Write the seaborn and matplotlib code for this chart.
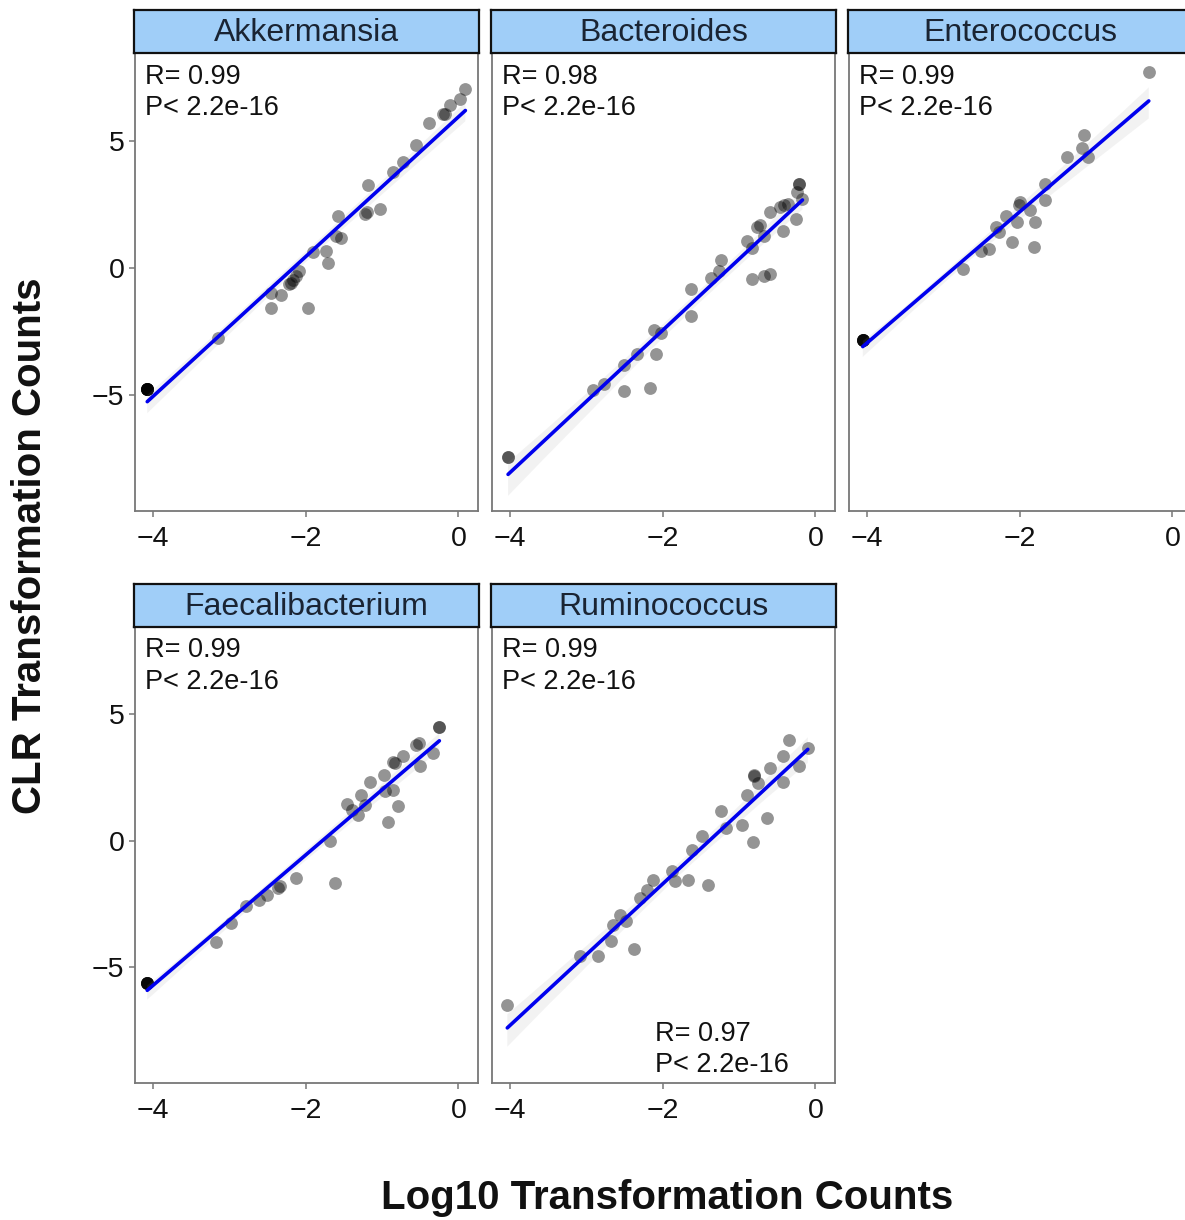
import numpy as np
import pandas as pd
import matplotlib
matplotlib.use("Agg")
import matplotlib.pyplot as plt
import seaborn as sns

# ---------------- data ----------------
genera = ["Akkermansia", "Bacteroides", "Enterococcus", "Faecalibacterium", "Ruminococcus"]

akk_x = [0.09, 0.02, -0.11, -0.17, -0.20, -0.39, -0.55, -0.72, -0.85, -1.18, -1.03, -1.20, -1.22,
         -1.57, -1.53, -1.60, -1.73, -1.70, -1.90, -2.08, -2.12, -2.19, -2.17, -2.21, -2.32, -2.45,
         -2.45, -1.97, -3.15, -4.07, -4.07, -4.07, -4.07, -4.07, -4.07, -4.07, -4.07]
akk_y = [7.02, 6.62, 6.42, 6.03, 6.03, 5.70, 4.83, 4.17, 3.77, 3.27, 2.29, 2.19, 2.12,
         2.05, 1.15, 1.25, 0.66, 0.20, 0.60, -0.13, -0.33, -0.60, -0.47, -0.66, -1.06, -0.99,
         -1.59, -1.59, -2.78, -4.77, -4.77, -4.77, -4.77, -4.77, -4.77, -4.77, -4.77]

bac_x = [-0.22, -0.22, -0.24, -0.17, -0.26, -0.43, -0.41, -0.47, -0.36, -0.59, -0.72, -0.76, -0.67,
         -0.89, -0.83, -0.59, -0.67, -0.83, -1.24, -1.26, -1.37, -1.63, -1.63, -2.11, -2.02, -2.09,
         -2.33, -2.50, -2.76, -2.91, -2.50, -2.17, -4.02, -4.02]
bac_y = [3.31, 3.31, 2.98, 2.72, 1.92, 1.46, 2.45, 2.40, 2.52, 2.19, 1.66, 1.60, 1.26,
         1.06, 0.79, -0.26, -0.33, -0.46, 0.30, -0.13, -0.40, -0.86, -1.89, -2.45, -2.58, -3.38,
         -3.38, -3.84, -4.57, -4.83, -4.86, -4.74, -7.46, -7.46]

ent_x = [-0.31, -1.16, -1.18, -1.11, -1.38, -1.67, -1.67, -1.99, -2.01, -1.86, -2.18, -2.03, -1.80,
         -2.31, -2.27, -2.10, -1.81, -2.40, -2.51, -2.74, -4.05, -4.05, -4.05, -4.05, -4.05, -4.05]
ent_y = [7.72, 5.23, 4.70, 4.37, 4.37, 3.31, 2.65, 2.58, 2.45, 2.25, 2.05, 1.79, 1.79,
         1.59, 1.39, 0.99, 0.83, 0.73, 0.66, -0.07, -2.85, -2.85, -2.85, -2.85, -2.85, -2.85]

fae_x = [-0.25, -0.25, -0.52, -0.56, -0.33, -0.50, -0.72, -0.83, -0.86, -0.98, -0.85, -0.96, -0.79,
         -0.92, -1.16, -1.27, -1.22, -1.46, -1.31, -1.39, -1.68, -1.62, -2.13, -2.34, -2.36, -2.50,
         -2.61, -2.78, -2.98, -3.17, -4.07, -4.07, -4.07, -4.07, -4.07, -4.07]
fae_y = [4.51, 4.51, 3.86, 3.80, 3.46, 2.97, 3.33, 3.07, 3.10, 2.61, 2.01, 1.95, 1.38,
         0.74, 2.34, 1.82, 1.42, 1.46, 1.03, 1.20, 0.00, -1.67, -1.47, -1.80, -1.86, -2.13,
         -2.33, -2.59, -3.25, -4.01, -5.62, -5.62, -5.62, -5.62, -5.62, -5.62]

rum_x = [-0.34, -0.10, -0.21, -0.43, -0.43, -0.60, -0.80, -0.80, -0.75, -0.89, -0.64, -0.82, -0.96,
         -1.24, -1.17, -1.49, -1.62, -1.88, -1.84, -1.67, -1.41, -2.13, -2.20, -2.29, -2.55, -2.48,
         -2.65, -2.68, -2.37, -2.84, -3.08, -4.03]
rum_y = [3.99, 3.66, 2.97, 3.33, 2.32, 2.87, 2.61, 2.55, 2.28, 1.82, 0.89, -0.07, 0.63,
         1.16, 0.50, 0.17, -0.36, -1.21, -1.61, -1.54, -1.74, -1.54, -1.93, -2.26, -2.92, -3.18,
         -3.32, -3.97, -4.30, -4.57, -4.57, -6.51]

r_labels = ["R= 0.99", "R= 0.98", "R= 0.99", "R= 0.99", "R= 0.99"]
p_label = "P< 2.2e-16"
extra_label = "R= 0.97\nP< 2.2e-16"

x_ticks = [-4, -2, 0]
y_ticks = [-5, 0, 5]

xs = [akk_x, bac_x, ent_x, fae_x, rum_x]
ys = [akk_y, bac_y, ent_y, fae_y, rum_y]
df = pd.concat([pd.DataFrame({"genus": g, "log10": x, "clr": y}) for g, x, y in zip(genera, xs, ys)],
               ignore_index=True)

# ---------------- styling ----------------
sns.set_theme(style="white")
plt.rcParams["font.family"] = ["Liberation Sans", "DejaVu Sans"]
plt.rcParams["axes.unicode_minus"] = True

W, H = 1185, 1220
fig = plt.figure(figsize=(W / 100, H / 100), dpi=100)
fig.patch.set_facecolor("white")

col_left = [135, 492, 849]
panel_w = 343
row_top = [53, 627]
row_h = [458, 456]
strip_h = 43


def rect(left, top, w, h):
    return [left / W, 1 - (top + h) / H, w / W, h / H]


positions = [(0, 0), (0, 1), (0, 2), (1, 0), (1, 1)]
for i, g in enumerate(genera):
    r, c = positions[i]
    ax = fig.add_axes(rect(col_left[c], row_top[r], panel_w, row_h[r]))
    sub = df[df["genus"] == g]
    sns.regplot(data=sub, x="log10", y="clr", ax=ax, ci=95, color="#888888",
                scatter_kws={"color": "black", "alpha": 0.42, "s": 85, "linewidths": 0},
                line_kws={"color": "#0000EE", "linewidth": 2.6})
    # make the confidence band a faint grey, as in the reference
    for coll in ax.collections[1:]:
        coll.set_facecolor("#9a9a9a")
        coll.set_alpha(0.12)
        coll.set_edgecolor("none")
    ax.set_xlim(-4.23, 0.255)
    ax.set_ylim(-9.58, 8.45)
    ax.set_xticks(x_ticks)
    ax.set_yticks(y_ticks)
    ax.set_xlabel("")
    ax.set_ylabel("")
    ax.tick_params(axis="both", which="major", length=4.5, width=1.1, color="#777777",
                   labelsize=20.5, labelcolor="#111111", bottom=True, left=True)
    ax.tick_params(axis="x", pad=6)
    ax.tick_params(axis="y", pad=3)
    if c != 0:
        ax.set_yticklabels([])
        ax.tick_params(axis="y", left=False)
    for sp in ax.spines.values():
        sp.set_color("#777777")
        sp.set_linewidth(1.3)
    ax.set_facecolor("white")
    ax.text(0.028, 0.977, r_labels[i] + "\n" + p_label, transform=ax.transAxes,
            ha="left", va="top", fontsize=19.5, color="#111111", linespacing=1.28)
    if g == "Ruminococcus":
        ax.text(0.475, 0.01, extra_label, transform=ax.transAxes,
                ha="left", va="bottom", fontsize=19.5, color="#111111", linespacing=1.28)

    # facet strip
    sax = fig.add_axes(rect(col_left[c] - 1, row_top[r] - strip_h, panel_w + 2, strip_h))
    sax.set_facecolor("#A0CEF8")
    sax.set_xticks([])
    sax.set_yticks([])
    for sp in sax.spines.values():
        sp.set_color("#111111")
        sp.set_linewidth(1.6)
    sax.text(0.5, 0.47, g, ha="center", va="center", fontsize=23, color="#1a2433",
             transform=sax.transAxes)

fig.text(667 / W, 1 - 1198 / H, "Log10 Transformation Counts", ha="center", va="center",
         fontsize=29, fontweight="bold", color="#111111")
fig.text(30 / W, 1 - 546 / H, "CLR Transformation Counts", ha="center", va="center",
         rotation=90, fontsize=29, fontweight="bold", color="#111111")

fig.savefig("out.png", dpi=100, facecolor="white")
